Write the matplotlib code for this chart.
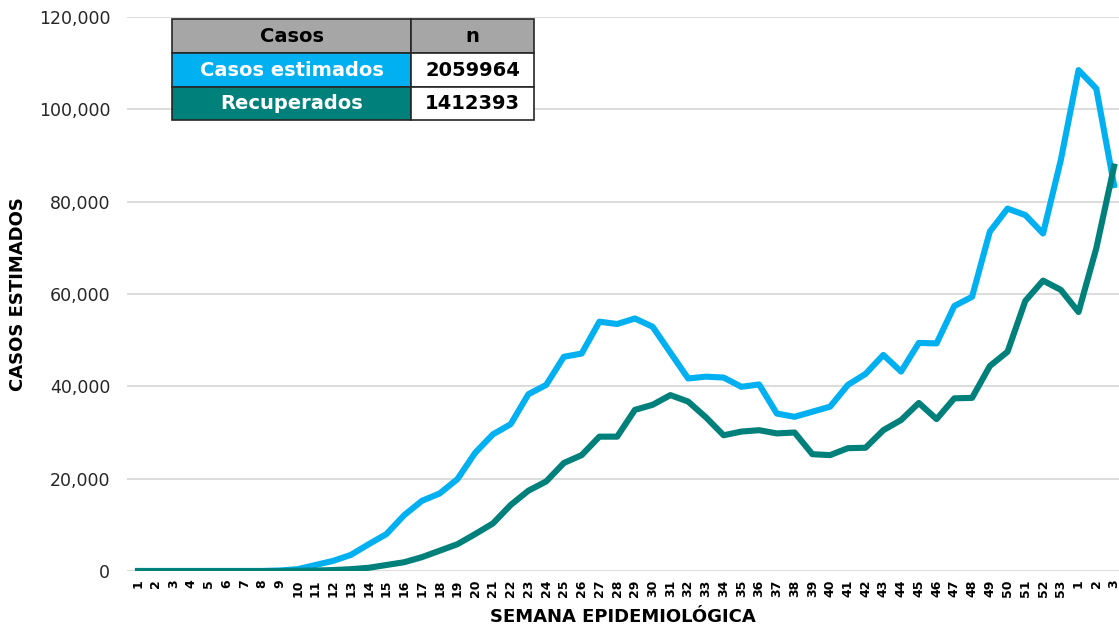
import matplotlib
matplotlib.use("Agg")
import matplotlib.pyplot as plt
from matplotlib.patches import Rectangle
from matplotlib.ticker import FuncFormatter

plt.rcParams['font.family'] = ['DejaVu Sans']

semanas = [str(i) for i in range(1, 54)] + ['1', '2', '3']

casos_estimados = [0, 0, 0, 0, 0, 0, 0, 0, 100, 400,
                   1300, 2200, 3500, 5800, 8000, 12100, 15200, 16800, 19900, 25600,
                   29600, 31800, 38300, 40300, 46400, 47100, 54000, 53500, 54700, 52900,
                   47300, 41700, 42100, 41900, 39900, 40400, 34100, 33400, 34500, 35600,
                   40300, 42700, 46800, 43200, 49400, 49300, 57400, 59400, 73500, 78500,
                   77100, 73100, 89000, 108500, 104500, 83600]

recuperados = [0, 0, 0, 0, 0, 0, 0, 0, 0, 50,
               100, 200, 400, 700, 1300, 1900, 3000, 4400, 5800, 8000,
               10300, 14300, 17400, 19400, 23400, 25100, 29100, 29100, 34900, 36000,
               38100, 36700, 33300, 29400, 30200, 30500, 29800, 30000, 25300, 25100,
               26600, 26700, 30500, 32700, 36400, 32900, 37400, 37500, 44400, 47500,
               58500, 62900, 60900, 56100, 69900, 87600]

tabla_encabezado = ['Casos', 'n']
tabla_series = ['Casos estimados', 'Recuperados']
tabla_totales = ['2059964', '1412393']

azul = '#00B0F0'
verde = '#00807A'

W, H = 1119, 630
fig = plt.figure(figsize=(W / 100, H / 100), dpi=100)
ax = fig.add_axes([127 / W, 1 - 571 / H, (1119 - 127) / W, (571 - 17) / H])

x = list(range(len(semanas)))
ax.plot(x, casos_estimados, color=azul, lw=4.4, solid_joinstyle='round', zorder=3)
ax.plot(x, recuperados, color=verde, lw=4.4, solid_joinstyle='round', zorder=3)

ax.set_ylim(0, 120000)
ax.set_yticks(range(0, 120001, 20000))
ax.yaxis.set_major_formatter(FuncFormatter(lambda v, p: f"{int(v):,}"))
ax.set_xlim(-0.62, len(semanas) - 1 + 0.28)
ax.set_xticks(x)
ax.set_xticklabels(semanas, rotation=90, fontsize=9, fontweight='bold')
ax.grid(axis='y', color='#d9d9d9', lw=1.3, zorder=0)
ax.set_axisbelow(True)
for s in ax.spines.values():
    s.set_visible(False)
ax.tick_params(axis='both', length=0)
ax.tick_params(axis='y', labelsize=12.5, pad=12)
ax.tick_params(axis='x', pad=6)
for t in ax.get_yticklabels():
    t.set_color('#262626')

ax.set_xlabel('SEMANA EPIDEMIOLÓGICA', fontsize=13, fontweight='bold', labelpad=8)
ax.set_ylabel('CASOS ESTIMADOS', fontsize=13, fontweight='bold')
ax.yaxis.set_label_coords((27 - 127) / 992, 0.5)

# Tabla resumen
x0, x1, x2 = 172, 411, 534
ys = [19, 53, 87, 120]
fills = ['#A6A6A6', azul, verde]
def fx(px):
    return px / W
def fy(py):
    return 1 - py / H

rows = [(tabla_encabezado[0], tabla_encabezado[1], 'black', 'black')]
for name, val in zip(tabla_series, tabla_totales):
    rows.append((name, val, 'white', 'black'))

for i, (left_txt, right_txt, lc, rc) in enumerate(rows):
    top, bot = ys[i], ys[i + 1]
    fig.add_artist(Rectangle((fx(x0), fy(bot)), fx(x1 - x0), (bot - top) / H,
                             transform=fig.transFigure, facecolor=fills[i],
                             edgecolor='#262626', lw=1.2))
    fig.add_artist(Rectangle((fx(x1), fy(bot)), fx(x2 - x1), (bot - top) / H,
                             transform=fig.transFigure,
                             facecolor=fills[0] if i == 0 else 'white',
                             edgecolor='#262626', lw=1.2))
    cy = fy((top + bot) / 2)
    fig.text(fx((x0 + x1) / 2), cy, left_txt, ha='center', va='center',
             fontsize=14, fontweight='bold', color=lc)
    fig.text(fx((x1 + x2) / 2), cy, right_txt, ha='center', va='center',
             fontsize=14, fontweight='bold', color=rc)

fig.savefig('out.png', dpi=100, facecolor='white')
